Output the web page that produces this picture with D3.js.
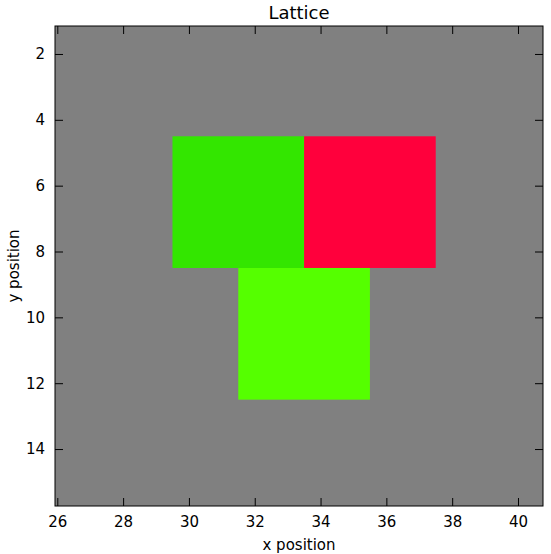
<!DOCTYPE html>
<html><head><meta charset="utf-8">
<script src="https://cdn.jsdelivr.net/npm/d3@7"></script>
<style>body{margin:0;background:#fff;font-family:"DejaVu Sans",sans-serif;}</style>
</head><body><div id="chart"></div>
<script>
// lattice cells: centre x, centre y, colour
var cellX = [31.5, 35.5, 33.5];
var cellY = [6.5, 6.5, 10.5];
var cellColor = ["#33e600", "#ff003c", "#55ff00"];
var cellSize = 4;
var xTicks = [26, 28, 30, 32, 34, 36, 38, 40];
var yTicks = [2, 4, 6, 8, 10, 12, 14];

var width = 551, height = 554;
var padL = 55, padR = 543, padT = 26, padB = 506;

var xScale = d3.scaleLinear().domain([25.93, 40.76]).range([padL, padR]);
var yScale = d3.scaleLinear().domain([1.15, 15.73]).range([padT, padB]);

var svg = d3.select("#chart").append("svg").attr("width", width).attr("height", height);

svg.append("rect").attr("x", padL).attr("y", padT)
    .attr("width", padR - padL).attr("height", padB - padT).attr("fill", "#808080");

svg.selectAll(".cell").data(cellX).enter().append("rect")
    .attr("x", function(d){ return xScale(d - cellSize/2); })
    .attr("y", function(d, i){ return yScale(cellY[i] - cellSize/2); })
    .attr("width", function(d){ return xScale(d + cellSize/2) - xScale(d - cellSize/2); })
    .attr("height", function(d, i){ return yScale(cellY[i] + cellSize/2) - yScale(cellY[i] - cellSize/2); })
    .attr("fill", function(d, i){ return cellColor[i]; });

function style(g){
    g.select(".domain").remove();
    g.selectAll("text").attr("font-size", 15).attr("fill", "#000").attr("font-family", "DejaVu Sans");
    g.selectAll("line").attr("stroke", "#000");
}
svg.append("g").attr("transform", "translate(0," + padB + ")")
    .call(d3.axisBottom(xScale).tickValues(xTicks).tickSizeInner(-8).tickPadding(10)).call(style);
svg.append("g").attr("transform", "translate(0," + padT + ")")
    .call(d3.axisTop(xScale).tickValues(xTicks).tickSizeInner(-8).tickFormat("")).call(style);
svg.append("g").attr("transform", "translate(" + padL + ",0)")
    .call(d3.axisLeft(yScale).tickValues(yTicks).tickSizeInner(-8).tickPadding(10)).call(style);
svg.append("g").attr("transform", "translate(" + padR + ",0)")
    .call(d3.axisRight(yScale).tickValues(yTicks).tickSizeInner(-8).tickFormat("")).call(style);

svg.append("rect").attr("x", padL).attr("y", padT)
    .attr("width", padR - padL).attr("height", padB - padT)
    .attr("fill", "none").attr("stroke", "#000").attr("stroke-width", 1);

svg.append("text").attr("x", (padL + padR)/2).attr("y", 19).attr("text-anchor", "middle")
    .attr("font-size", 18).text("Lattice");
svg.append("text").attr("x", (padL + padR)/2).attr("y", 550).attr("text-anchor", "middle")
    .attr("font-size", 15).text("x position");
svg.append("text").attr("transform", "translate(19," + (padT + padB)/2 + ") rotate(-90)")
    .attr("text-anchor", "middle").attr("font-size", 15).text("y position");
</script></body></html>
